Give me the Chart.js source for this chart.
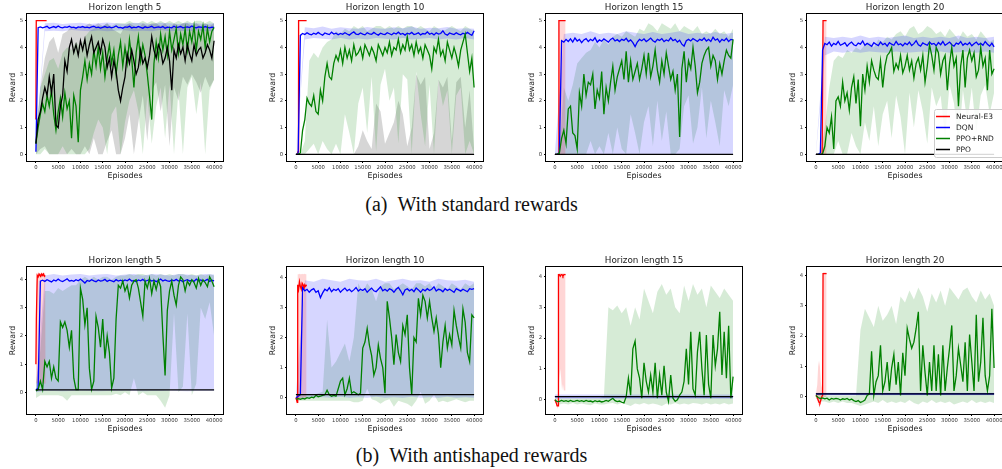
<!DOCTYPE html>
<html>
<head>
<meta charset="utf-8">
<script src="https://cdn.jsdelivr.net/npm/chart.js@4.4.0/dist/chart.umd.min.js"></script>
<style>
body { margin: 0; width: 1002px; height: 469px; overflow: hidden; background: #fff; position: relative; }
canvas { position: absolute; }
.cap { position: absolute; left: 0; width: 943px; text-align: center; font: 20px "Liberation Serif", serif; line-height: 24px; color: #111; white-space: pre; }
</style>
</head>
<body>
<div class="cap" style="top:192px">(a)&ensp;With standard rewards</div>
<div class="cap" style="top:443px">(b)&ensp;With antishaped rewards</div>
<script>
// episode grids
const ep500 = [0, 500, 1000, 1500, 2000, 2500, 3000, 3500, 4000, 4500,
  5000, 5500, 6000, 6500, 7000, 7500, 8000, 8500, 9000, 9500,
  10000, 10500, 11000, 11500, 12000, 12500, 13000, 13500, 14000, 14500,
  15000, 15500, 16000, 16500, 17000, 17500, 18000, 18500, 19000, 19500,
  20000, 20500, 21000, 21500, 22000, 22500, 23000, 23500, 24000, 24500,
  25000, 25500, 26000, 26500, 27000, 27500, 28000, 28500, 29000, 29500,
  30000, 30500, 31000, 31500, 32000, 32500, 33000, 33500, 34000, 34500,
  35000, 35500, 36000, 36500, 37000, 37500, 38000, 38500, 39000, 39500,
  40000];
const ep1000 = [0, 1000, 2000, 3000, 4000, 5000, 6000, 7000, 8000, 9000,
  10000, 11000, 12000, 13000, 14000, 15000, 16000, 17000, 18000, 19000,
  20000, 21000, 22000, 23000, 24000, 25000, 26000, 27000, 28000, 29000,
  30000, 31000, 32000, 33000, 34000, 35000, 36000, 37000, 38000, 39000,
  40000];
const ep2000 = [0, 2000, 4000, 6000, 8000, 10000, 12000, 14000, 16000, 18000,
  20000, 22000, 24000, 26000, 28000, 30000, 32000, 34000, 36000, 38000,
  40000];
const epFlat = [0, 40000];

const xTicks = [0, 5000, 10000, 15000, 20000, 25000, 30000, 35000, 40000];
const yTicksStd = [0, 1, 2, 3, 4, 5];
const yTicksAnti = [0, 1, 2, 3, 4];

const seriesNames = ['Neural-E3', 'DQN', 'PPO+RND', 'PPO'];
const lineColors = ['rgb(255,0,0)', 'rgb(0,0,255)', 'rgb(0,128,0)', 'rgb(0,0,0)'];
const bandColors = ['rgba(255,0,0,0.16)', 'rgba(0,0,255,0.16)', 'rgba(0,128,0,0.16)', 'rgba(0,0,0,0.16)'];

// ---- standard rewards, horizon 5
const std5E3X = [0, 80, 2400];
const std5E3 = [1.3, 5, 5];
const std5Dqn = [0.1, 4.74, 4.77, 4.73, 4.76, 4.79, 4.72, 4.75, 4.78, 4.74,
  4.80, 4.75, 4.73, 4.77, 4.75, 4.79, 4.74, 4.76, 4.72, 4.77,
  4.75, 4.78, 4.74, 4.76, 4.73, 4.77, 4.79, 4.74, 4.76, 4.72,
  4.75, 4.78, 4.74, 4.77, 4.73, 4.76, 4.80, 4.74, 4.75, 4.72,
  4.77, 4.75, 4.79, 4.73, 4.76, 4.74, 4.78, 4.75, 4.72, 4.77,
  4.74, 4.76, 4.79, 4.73, 4.75, 4.77, 4.74, 4.78, 4.72, 4.76,
  4.75, 4.73, 4.79, 4.74, 4.76, 4.78, 4.73, 4.75, 4.77, 4.74,
  4.80, 4.75, 4.73, 4.77, 4.76, 4.74, 4.78, 4.75, 4.73, 4.76,
  4.75];
const std5DqnLo = [0.05, 4.6, 4.62, 4.6, 4.65, 4.62, 4.6, 4.63, 4.6, 4.62,
  4.64, 4.6, 4.62, 4.6, 4.65, 4.6, 4.62, 4.6, 4.63, 4.6, 4.62];
const std5DqnHi = [0.3, 4.9, 4.92, 4.88, 4.9, 4.92, 4.88, 4.9, 4.93, 4.9,
  4.88, 4.92, 4.9, 4.88, 4.92, 4.9, 4.88, 4.92, 4.9, 4.88, 4.9];
const std5Rnd = [0.4, 1.0, 1.5, 1.9, 1.6, 2.2, 1.8, 2.4, 1.5, 0.9,
  1.6, 2.1, 1.4, 2.3, 1.7, 2.0, 0.6, 2.2, 1.8, 0.45,
  2.4, 2.9, 3.5, 2.8, 3.4, 3.0, 3.9, 3.3, 4.0, 3.2,
  3.8, 2.9, 3.6, 4.1, 3.4, 3.9, 3.0, 3.7, 4.2, 3.3,
  4.0, 3.4, 4.3, 3.6, 2.5, 3.8, 4.4, 3.5, 4.1, 3.7,
  3.0, 2.2, 1.3, 3.4, 4.2, 3.6, 4.5, 3.9, 4.4, 3.7,
  4.6, 3.9, 4.3, 4.7, 3.8, 4.5, 4.1, 4.7, 3.9, 4.6,
  4.2, 4.8, 3.9, 4.6, 4.3, 4.8, 4.0, 4.7, 4.2, 4.6,
  4.75];
const std5RndLo = [0.0, 0.0, 0.2, 0.0, 0.0, 0.0, 0.3, 0.0, 0.0, 0.0,
  0.0, 0.0, 0.2, 0.8, 1.3, 1.0, 0.0, 1.5, 1.8, 0.0,
  1.2, 2.0, 2.4, 1.6, 0.0, 2.2, 0.4, 1.8, 2.5, 0.6,
  2.6, 0.0, 2.4, 0.0, 2.5, 2.9, 1.5, 2.7, 0.0, 2.4,
  2.8];
const std5RndHi = [0.8, 2.5, 3.0, 3.5, 3.6, 3.2, 3.8, 4.0, 3.9, 4.2,
  4.0, 4.4, 4.6, 4.7, 4.8, 4.8, 4.9, 4.8, 4.9, 4.9,
  4.9, 5.0, 4.9, 4.9, 5.0, 4.9, 5.0, 4.9, 5.0, 4.9,
  5.0, 4.9, 5.0, 4.9, 5.0, 4.9, 5.0, 5.0, 4.9, 5.0,
  4.9];
const std5Ppo = [0.4, 1.3, 1.6, 2.1, 2.5, 2.2, 2.9, 2.3, 3.0, 1.1,
  1.0, 1.8, 2.2, 3.5, 3.1, 4.0, 4.3, 3.8, 4.1, 3.7,
  4.25, 3.9, 4.3, 3.7, 4.1, 4.4, 3.8, 4.0, 4.2, 3.8,
  4.3, 4.0, 3.25, 3.6, 2.9, 3.5, 3.1, 2.4, 2.0, 2.5,
  2.9, 3.76, 3.4, 3.9, 3.5, 3.0, 3.25, 3.9, 3.4, 3.6,
  3.25, 3.7, 4.4, 3.9, 3.6, 4.1, 3.9, 3.4, 3.6, 4.0,
  3.5, 2.4, 3.9, 3.6, 4.1, 3.76, 4.0, 3.5, 4.1, 3.76,
  3.5, 4.1, 3.7, 3.9, 4.0, 3.6, 3.8, 4.1, 3.9, 3.6,
  4.25];
const std5PpoLo = [0.0, 0.2, 0.3, 0.0, 0.0, 0.0, 0.0, 0.0, 0.2, 0.0,
  0.0, 0.3, 0.0, 0.6, 0.0, 0.0, 0.5, 0.9, 0.0, 0.0,
  0.6, 1.5, 0.0, 1.2, 2.2, 0.5, 2.4, 2.7, 1.6, 2.6,
  0.3, 2.5, 2.0, 2.9, 2.6, 3.0, 2.7, 2.3, 2.9, 2.5,
  2.8];
const std5PpoHi = [0.5, 2.5, 3.6, 4.2, 4.4, 3.8, 4.5, 4.6, 4.8, 4.7,
  4.8, 4.8, 4.9, 4.8, 4.9, 4.8, 4.9, 4.7, 4.6, 4.5,
  4.8, 4.9, 4.8, 4.7, 4.9, 4.8, 4.9, 4.9, 4.8, 4.9,
  4.7, 4.9, 4.8, 4.9, 4.9, 4.8, 4.9, 4.8, 4.9, 4.8,
  4.9];

// ---- standard rewards, horizon 10
const std10E3X = [0, 300, 500, 600, 800, 2400];
const std10E3 = [0, 0, 0.1, 5, 5, 5];
const std10E3Lo = [0, 0, 0, 0, 5, 5];
const std10E3Hi = [0, 0, 5, 5, 5, 5];
const std10Dqn = [0, 0.02, 4.45, 4.52, 4.48, 4.55, 4.5, 4.47, 4.53, 4.49,
  4.56, 4.5, 4.46, 4.54, 4.51, 4.48, 4.57, 4.5, 4.53, 4.47,
  4.52, 4.49, 4.55, 4.5, 4.46, 4.53, 4.58, 4.5, 4.48, 4.54,
  4.5, 4.47, 4.55, 4.51, 4.49, 4.56, 4.5, 4.46, 4.53, 4.5,
  4.48, 4.55, 4.51, 4.47, 4.54, 4.5, 4.57, 4.49, 4.52, 4.46,
  4.53, 4.5, 4.56, 4.48, 4.51, 4.55, 4.47, 4.52, 4.5, 4.58,
  4.49, 4.53, 4.47, 4.55, 4.5, 4.52, 4.62, 4.5, 4.46, 4.54,
  4.51, 4.48, 4.55, 4.5, 4.47, 4.53, 4.49, 4.56, 4.5, 4.45,
  4.62];
const std10DqnLo = [0, 4.3, 4.35, 4.32, 4.3, 4.35, 4.3, 4.33, 4.3, 4.35,
  4.32, 4.3, 4.35, 4.3, 4.32, 4.35, 4.3, 4.33, 4.3, 4.35, 4.3];
const std10DqnHi = [0.05, 4.75, 4.72, 4.78, 4.7, 4.75, 4.72, 4.7, 4.76, 4.72,
  4.7, 4.75, 4.72, 4.78, 4.7, 4.74, 4.72, 4.76, 4.7, 4.72, 4.7];
const std10Rnd = [0, 0, 0.05, 0.9, 1.3, 2.1, 1.9, 1.8, 2.2, 1.6,
  1.5, 2.4, 2.0, 2.9, 3.4, 2.9, 2.8, 3.4, 3.7, 3.5,
  3.9, 3.4, 4.0, 3.6, 3.9, 3.5, 4.1, 3.7, 3.8, 4.0,
  3.6, 4.1, 3.9, 3.7, 4.0, 3.8, 3.5, 4.1, 3.9, 3.7,
  4.0, 3.8, 4.2, 3.7, 4.0, 3.9, 4.3, 3.8, 4.1, 3.9,
  4.4, 3.9, 4.1, 3.7, 4.2, 3.8, 4.0, 3.6, 4.1, 3.9,
  3.7, 3.2, 4.0, 3.8, 4.3, 3.7, 3.9, 3.5, 4.2, 3.9,
  3.6, 4.0, 3.7, 3.3, 3.9, 4.2, 4.5, 3.8, 3.1, 3.6,
  2.5];
const std10RndLo = [0, 0, 0, 0.2, 0.4, 0, 0.5, 0.2, 0, 0.4,
  0, 1.5, 0.8, 0, 1.9, 2.5, 0.8, 2.9, 0.1, 2.6,
  3.2, 2.0, 2.5, 0.4, 3.0, 2.8, 0, 3.1, 1.5, 0.3,
  2.6, 0, 2.8, 1.8, 2.4, 0, 2.2, 2.5, 0, 0.5,
  0];
const std10RndHi = [0, 0, 0.5, 3.5, 3.8, 3.6, 4.0, 4.2, 4.3, 4.6,
  4.5, 4.7, 4.6, 4.8, 4.7, 4.8, 4.6, 4.7, 4.8, 4.8,
  4.7, 4.8, 4.7, 4.8, 4.7, 4.8, 4.8, 4.7, 4.8, 4.7,
  4.6, 4.8, 4.7, 4.6, 4.7, 4.8, 4.7, 4.6, 4.8, 4.7,
  4.6];
const std10Ppo = [0, 0];
const std10PpoLo = [0, 0, 0, 0, 0, 0, 0, 0, 0, 0,
  0, 0, 0, 0, 0, 0, 0, 0, 0, 0,
  0, 0, 0, 0, 0, 0, 0, 0, 0, 0,
  0, 0, 0, 0, 0, 0, 0, 0, 0, 0,
  0];
const std10PpoHi = [0, 0, 0, 0, 0, 0, 0, 0, 0, 0,
  0, 0, 0, 0, 0.3, 0.9, 0.5, 0.2, 1.9, 1.6,
  0.4, 0.8, 1.2, 2.0, 1.5, 0.3, 1.0, 3.0, 2.6, 2.9,
  0.2, 0.8, 2.8, 2.5, 2.9, 0.5, 2.7, 2.9, 1.0, 2.4,
  0.2];

// ---- standard rewards, horizon 15
const std15E3X = [0, 700, 900, 1000, 2400];
const std15E3 = [0, 0, 5, 5, 5];
const std15E3Lo = [0, 0, 0, 0, 0];
const std15E3Hi = [0, 0, 5, 5, 5];
const std15Dqn = [0, 0, 0.05, 4.25, 4.2, 4.3, 4.22, 4.32, 4.2, 4.35,
  4.24, 4.3, 4.18, 4.28, 4.33, 4.22, 4.3, 4.25, 4.36, 4.2,
  4.28, 4.23, 4.32, 4.26, 4.2, 4.3, 4.35, 4.24, 4.29, 4.22,
  4.3, 4.26, 4.34, 4.22, 4.28, 4.18, 4.03, 4.2, 4.3, 4.25,
  4.32, 4.22, 4.28, 4.35, 4.25, 4.2, 4.3, 4.26, 4.33, 4.22,
  4.28, 4.24, 4.36, 4.25, 4.3, 4.2, 4.27, 4.12, 4.05, 4.25,
  4.3, 4.24, 4.33, 4.28, 4.22, 4.3, 4.26, 4.35, 4.24, 4.3,
  4.22, 4.38, 4.27, 4.32, 4.2, 4.3, 4.25, 4.34, 4.22, 4.3,
  4.28];
const std15DqnLo = [0, 0, 0, 0, 0, 0, 0, 0, 0, 0,
  0, 0, 0, 0, 0, 0, 0, 0, 0, 0, 0];
const std15DqnHi = [0.05, 4.5, 4.55, 4.5, 4.6, 4.5, 4.55, 4.5, 4.6, 4.55,
  4.5, 4.58, 4.5, 4.55, 4.6, 4.5, 4.55, 4.5, 4.58, 4.5, 4.55];
const std15Rnd = [0, 0, 0.05, 0.6, 0.9, 0.4, 1.7, 1.8, 0.8, 0.7,
  0.2, 2.3, 1.8, 3.0, 2.2, 2.7, 2.6, 3.0, 1.7, 2.4,
  2.1, 3.1, 1.5, 2.5, 2.0, 2.7, 3.3, 2.4, 2.9, 3.2,
  3.5, 2.8, 3.85, 2.7, 3.5, 2.8, 3.1, 3.4, 2.8, 3.2,
  3.7, 3.0, 3.8, 2.9, 3.3, 3.9, 3.15, 2.7, 3.5, 3.0,
  3.8, 3.3, 2.8, 3.1, 2.4, 3.0, 0.65, 3.2, 3.85, 2.7,
  3.5, 3.2, 4.0, 3.3, 2.3, 2.7, 3.4, 3.7, 3.9, 4.0,
  3.3, 3.7, 3.5, 2.8, 3.4, 3.0, 3.5, 3.9, 3.7, 3.6,
  4.3];
const std15RndLo = [0, 0, 0, 0, 0, 0, 0, 0, 0.5, 0,
  0.3, 0, 0.8, 0, 1.0, 0.2, 0, 1.5, 0.8, 0,
  1.2, 1.8, 0.3, 2.0, 0.5, 1.6, 0, 0, 0.2, 1.8,
  2.2, 0.4, 1.0, 2.5, 0.6, 2.0, 1.2, 0.3, 2.4, 1.8,
  2.6];
const std15RndHi = [0, 0.1, 2.5, 2.0, 2.6, 3.4, 3.6, 3.8, 3.9, 4.2,
  4.0, 4.3, 4.1, 4.4, 4.5, 4.4, 4.6, 4.5, 4.4, 4.7,
  4.6, 4.9, 4.8, 4.6, 4.9, 4.8, 4.7, 4.9, 4.6, 4.8,
  4.7, 4.6, 4.8, 4.5, 4.6, 4.5, 4.7, 4.5, 4.6, 4.4,
  4.7];
const std15Ppo = [0, 0];

// ---- standard rewards, horizon 20
const std20E3X = [0, 1400, 1600, 1700, 2400];
const std20E3 = [0, 0, 5, 5, 5];
const std20E3Lo = [0, 0, 0, 0, 0];
const std20E3Hi = [0, 0, 5, 5, 5];
const std20Dqn = [0, 0, 0.05, 3.9, 4.15, 4.1, 4.2, 4.05, 4.15, 4.1,
  4.22, 4.08, 4.12, 4.18, 4.05, 4.14, 4.2, 4.1, 4.06, 4.16,
  4.12, 4.24, 4.08, 4.15, 4.1, 4.04, 4.18, 4.12, 4.07, 4.2,
  4.1, 4.15, 4.05, 4.18, 4.12, 4.08, 4.22, 4.1, 4.14, 4.06,
  4.16, 4.1, 4.2, 4.07, 4.14, 4.25, 4.1, 4.05, 4.17, 4.12,
  4.08, 4.2, 4.12, 4.15, 4.06, 4.18, 4.1, 4.22, 4.08, 4.14,
  4.2, 4.1, 4.05, 4.16, 4.12, 4.22, 4.08, 4.15, 4.1, 4.18,
  4.06, 4.14, 4.2, 4.1, 4.15, 4.08, 4.22, 4.12, 4.05, 4.16,
  4.02];
const std20DqnLo = [0, 3.7, 3.85, 3.8, 3.85, 3.8, 3.85, 3.82, 3.8, 3.85,
  3.8, 3.82, 3.85, 3.8, 3.85, 3.8, 3.82, 3.85, 3.8, 3.85, 3.8];
const std20DqnHi = [0.05, 4.4, 4.35, 4.4, 4.35, 4.45, 4.35, 4.4, 4.35, 4.4,
  4.45, 4.35, 4.4, 4.35, 4.4, 4.35, 4.45, 4.35, 4.4, 4.35, 4.4];
const std20Rnd = [0, 0, 0, 0.02, 0.3, 1.0, 0.8, 1.4, 0.2, 2.0,
  2.15, 1.8, 2.7, 2.0, 2.3, 1.65, 2.5, 2.9, 1.9, 2.8,
  1.05, 3.0, 2.4, 3.3, 2.7, 3.5, 3.15, 2.9, 2.8, 3.5,
  2.5, 3.3, 3.7, 3.8, 4.0, 3.1, 3.4, 3.2, 3.7, 3.05,
  3.3, 3.7, 3.15, 3.5, 2.85, 3.4, 3.6, 3.15, 3.7, 2.7,
  3.3, 4.1, 3.7, 3.15, 4.0, 3.8, 3.0, 3.5, 3.7, 2.4,
  3.4, 4.0, 3.3, 3.6, 1.8, 3.3, 3.9, 2.5, 3.6, 3.9,
  3.5, 3.8, 2.9, 3.15, 4.0, 3.3, 3.6, 2.4, 3.9, 3.0,
  3.2];
const std20RndLo = [0, 0, 0, 0, 0, 0.5, 0, 0, 0.8, 0.3,
  0, 1.2, 0.5, 1.8, 0.3, 1.5, 2.0, 0.6, 2.2, 1.4,
  0, 2.3, 1.0, 2.4, 1.6, 0.4, 2.5, 1.8, 2.2, 0.6,
  2.6, 1.9, 0.3, 2.4, 1.2, 2.5, 0.8, 2.2, 2.6, 1.5,
  2.3];
const std20RndHi = [0, 0, 1.0, 2.5, 3.5, 3.7, 3.6, 3.9, 3.8, 4.0,
  3.9, 4.1, 4.2, 4.0, 4.3, 4.2, 4.4, 4.3, 4.5, 4.6,
  4.4, 4.7, 4.8, 4.5, 4.6, 4.8, 4.7, 4.5, 4.6, 4.4,
  4.7, 4.5, 4.3, 4.6, 4.4, 4.5, 4.3, 4.6, 4.4, 4.2,
  4.3];
const std20Ppo = [0, 0];

// ---- antishaped rewards, horizon 5
const anti5E3X = [0, 100, 300, 500, 700, 900, 1100, 1300, 1500, 1700, 1900, 2100, 2200];
const anti5E3 = [1.0, 2.6, 4.15, 4.1, 4.2, 4.15, 4.12, 4.2, 4.15, 4.2, 4.12, 4.15, 4.15];
const anti5E3Lo = [0.3, 0.3, 0.35, 0.3, 0.4, 0.3, 0.35, 0.3, 0.3, 0.35, 0.3, 0.3, 0.3];
const anti5E3Hi = [1.8, 3.8, 4.25, 4.22, 4.25, 4.22, 4.25, 4.22, 4.25, 4.22, 4.25, 4.22, 4.22];
const anti5Dqn = [0.08, 0.15, 3.95, 3.98, 3.94, 4.0, 3.96, 3.92, 3.99, 3.95,
  4.02, 3.96, 3.93, 3.98, 4.03, 3.95, 3.97, 3.94, 4.0, 3.96,
  4.02, 3.95, 3.88, 3.97, 3.94, 4.0, 3.96, 3.93, 3.99, 3.95,
  3.97, 4.01, 3.94, 3.98, 3.96, 3.93, 4.0, 3.95, 3.98, 3.94,
  3.99, 3.96, 4.02, 3.95, 3.97, 3.93, 3.99, 3.96, 4.01, 3.94,
  3.97, 4.0, 3.95, 3.98, 3.93, 3.97, 4.02, 3.95, 3.99, 3.96,
  3.94, 3.99, 3.96, 4.01, 3.95, 3.98, 3.93, 3.97, 4.0, 3.95,
  3.98, 3.94, 4.02, 3.96, 3.99, 3.95, 3.97, 4.01, 3.94, 3.98,
  3.96];
const anti5DqnLo = [0.0, 0.05, 0.05, 0.04, 0.05, 0.06, 0.05, 0.04, 0.05, 0.05,
  0.06, 0.05, 0.04, 0.05, 0.05, 0.06, 0.05, 0.04, 0.05, 0.05, 0.05];
const anti5DqnHi = [0.2, 4.15, 4.2, 4.15, 4.18, 4.2, 4.15, 4.18, 4.2, 4.15,
  4.18, 4.2, 4.15, 4.2, 4.18, 4.15, 4.2, 4.18, 4.15, 4.2, 4.18];
const anti5Rnd = [0.05, 0.1, 0.4, 0.1, 1.1, 0.9, 1.1, 0.5, 0.9, 0.5,
  0.4, 2.5, 2.3, 2.5, 2.2, 1.6, 2.2, 0.5, 0.1, 0.1,
  3.7, 3.3, 2.4, 3.0, 0.85, 0.1, 0.4, 2.7, 2.3, 1.6,
  2.6, 1.2, 2.0, 1.4, 0.15, 0.5, 2.6, 3.8, 3.7, 3.95,
  3.6, 3.8, 3.35, 3.8, 3.95, 4.0, 3.7, 3.2, 2.7, 3.95,
  3.7, 4.05, 3.5, 3.95, 3.65, 4.0, 3.75, 2.05, 0.6, 2.9,
  3.6, 3.95, 3.45, 3.1, 3.8, 4.1, 4.0, 3.6, 3.95, 3.8,
  4.0, 3.9, 3.7, 4.05, 3.8, 4.0, 3.9, 3.75, 4.1, 3.95,
  3.75];
const anti5RndLo = [-0.2, -0.1, -0.1, -0.1, -0.1, -0.1, -0.15, -0.3, -0.1, -0.1,
  -0.1, -0.1, -0.1, -0.1, -0.1, -0.1, -0.1, -0.1, -0.05, -0.1,
  0.0, -0.1, 0.5, -0.1, 0.0, -0.1, -0.1, -0.1, -0.3, -0.55,
  -0.1, 2.8, 0.0, 0.2, 2.8, -0.1, 0.3, 3.0, 2.6, 3.2,
  2.0];
const anti5RndHi = [0.3, 1.5, 3.6, 3.6, 3.5, 3.7, 3.6, 3.7, 3.8, 3.8,
  4.0, 4.1, 4.0, 4.1, 4.0, 4.1, 4.1, 4.0, 4.1, 4.15,
  4.15, 4.2, 4.15, 4.2, 4.2, 4.15, 4.2, 4.15, 4.2, 4.15,
  4.2, 4.15, 4.2, 4.2, 4.15, 4.2, 4.15, 4.2, 4.15, 4.2,
  4.15];
const anti5Ppo = [0.09, 0.09];

// ---- antishaped rewards, horizon 10
const anti10E3X = [0, 200, 300, 400, 600, 800, 1000, 1200, 1400, 1600, 1800, 2000, 2200, 2400];
const anti10E3 = [0.0, -0.1, -0.15, 3.75, 3.6, 3.85, 3.7, 3.6, 3.8, 3.75, 3.6, 3.75, 3.7, 3.75];
const anti10E3Lo = [-0.1, -0.2, -0.25, 0.0, 0.0, 0.0, 0.0, 0.0, 0.0, 0.0, 0.0, 0.0, 0.0, 0.0];
const anti10E3Hi = [0.1, 0.05, 0.05, 4.1, 4.1, 4.12, 4.1, 4.1, 4.12, 4.1, 4.1, 4.12, 4.1, 4.1];
const anti10Dqn = [0.0, 0.05, 0.1, 3.65, 3.55, 3.6, 3.5, 3.58, 3.62, 3.5,
  3.55, 3.32, 3.48, 3.6, 3.55, 3.65, 3.52, 3.6, 3.56, 3.62,
  3.5, 3.58, 3.64, 3.55, 3.6, 3.52, 3.58, 3.66, 3.54, 3.6,
  3.56, 3.62, 3.5, 3.58, 3.64, 3.55, 3.52, 3.6, 3.68, 3.55,
  3.6, 3.54, 3.62, 3.58, 3.5, 3.6, 3.66, 3.55, 3.42, 3.58,
  3.62, 3.55, 3.6, 3.52, 3.64, 3.58, 3.5, 3.6, 3.55, 3.62,
  3.56, 3.6, 3.68, 3.54, 3.6, 3.58, 3.52, 3.62, 3.56, 3.6,
  3.55, 3.5, 3.62, 3.58, 3.54, 3.6, 3.56, 3.52, 3.62, 3.6,
  3.62];
const anti10DqnLo = [-0.05, 0.0, 0.0, 0.02, 0.0, 0.03, 0.0, 0.02, 0.0, 0.03,
  0.0, 0.02, 0.0, 0.03, 0.0, 0.02, 0.0, 0.03, 0.0, 0.02, 0.0];
const anti10DqnHi = [0.1, 3.9, 3.85, 3.95, 3.9, 3.85, 3.95, 3.9, 3.88, 3.95,
  3.85, 3.9, 3.95, 3.88, 3.9, 3.85, 3.95, 3.9, 3.88, 3.92, 3.85];
const anti10Rnd = [-0.05, -0.03, -0.05, -0.02, -0.04, 0.0, -0.02, 0.02, 0.0, 0.08,
  0.03, 0.05, 0.08, 0.1, 0.25, 0.1, 0.05, 0.08, 0.05, 0.3,
  0.55, 0.65, 0.1, 0.3, 0.65, 0.15, 0.2, 0.15, 0.1, 0.15,
  1.65, 1.85, 2.3, 1.75, 1.4, 0.75, 1.0, 1.75, 1.3, 1.0,
  0.15, 3.2, 2.65, 2.0, 1.1, 2.1, 1.5, 1.2, 2.4, 2.1,
  2.75, 1.0, 0.1, 2.0, 1.85, 3.3, 2.75, 3.4, 3.2, 2.65,
  3.2, 2.65, 2.2, 2.65, 2.1, 1.0, 1.85, 2.4, 1.65, 2.1,
  1.75, 2.9, 2.4, 2.0, 1.65, 2.95, 2.5, 1.5, 1.2, 2.75,
  2.65];
const anti10RndLo = [-0.1, -0.1, -0.1, -0.1, -0.1, -0.1, -0.1, -0.1, -0.1, -0.1,
  -0.1, -0.1, -0.1, -0.15, -0.15, -0.1, 0.3, -0.05, -0.1, -0.2,
  -0.1, -0.05, -0.3, -0.1, -0.15, -0.2, -0.3, -0.1, 0.2, -0.2,
  -0.1, 0.1, -0.15, -0.1, -0.15, -0.1, -0.05, -0.1, -0.15, -0.1,
  -0.1];
const anti10RndHi = [0.1, 0.1, 0.1, 0.1, 0.1, 0.15, 0.2, 2.6, 1.0, 1.2,
  1.5, 1.8, 1.2, 2.0, 3.8, 3.5, 3.8, 3.6, 3.2, 3.7,
  3.8, 3.8, 3.6, 3.7, 3.8, 3.7, 3.6, 3.8, 3.8, 3.7,
  3.8, 3.6, 3.8, 3.7, 3.6, 3.8, 3.7, 3.6, 3.8, 3.7,
  3.8];
const anti10Ppo = [0.1, 0.1];

// ---- antishaped rewards, horizon 15
const anti15E3X = [0, 300, 500, 700, 800, 1000, 1200, 1400, 1600, 1800, 2000, 2200, 2400];
const anti15E3 = [0.0, -0.1, -0.2, -0.2, 4.05, 4.05, 4.0, 4.05, 4.05, 4.0, 4.05, 4.05, 4.05];
const anti15E3Lo = [-0.05, -0.15, -0.25, -0.3, 0.3, 0.7, 1.0, 0.7, 0.3, 0.5, 0.3, 0.3, 0.3];
const anti15E3Hi = [0.05, 0.0, -0.1, -0.1, 4.1, 4.1, 4.1, 4.1, 4.1, 4.1, 4.1, 4.1, 4.1];
const anti15Dqn = [0.1, 0.1];
const anti15DqnLo = [0.03, 0.03];
const anti15DqnHi = [0.17, 0.17];
const anti15Rnd = [0.0, -0.06, -0.05, -0.02, -0.05, -0.03, -0.06, -0.02, -0.05, -0.04,
  -0.02, -0.05, -0.03, -0.06, -0.02, -0.05, -0.04, -0.07, -0.03, -0.06,
  -0.04, -0.07, -0.05, -0.02, -0.05, 0.0, 0.05, -0.03, -0.06, -0.04,
  -0.08, -0.1, 0.1, 0.7, 0.15, 1.65, 1.9, 1.0, 0.7, 0.05,
  1.2, 0.6, 0.25, 0.8, 0.25, 1.2, 0.05, 0.8, 0.15, 1.1,
  0.25, -0.05, 0.8, 0.05, -0.05, 0.0, 0.15, 0.25, 0.6, 1.65,
  0.5, 2.2, 0.35, 0.15, 1.55, 2.2, 1.0, 0.15, 2.1, 0.5,
  0.05, 2.1, 1.1, 1.65, 2.85, 0.8, 2.2, 0.7, 2.4, 0.05,
  0.75];
const anti15RndLo = [-0.05, -0.15, -0.12, -0.15, -0.1, -0.15, -0.12, -0.15, -0.18, -0.12,
  -0.15, -0.15, -0.12, -0.1, -0.15, -0.1, -0.15, -0.2, -0.12, -0.15,
  -0.1, -0.15, -0.12, -0.15, -0.2, -0.12, -0.15, -0.1, -0.15, -0.12,
  -0.15, -0.1, -0.12, -0.15, -0.1, -0.15, -0.12, -0.15, -0.1, -0.15,
  -0.12];
const anti15RndHi = [0.05, 0.05, 0.05, 0.05, 0.05, 0.05, 0.05, 0.05, 0.05, 0.05,
  0.05, 0.1, 3.0, 2.9, 3.05, 2.8, 3.0, 2.4, 3.0, 2.6,
  3.6, 3.2, 2.8, 3.5, 3.75, 3.4, 3.6, 3.0, 2.8, 3.7,
  3.2, 3.75, 3.4, 3.6, 3.0, 3.7, 3.5, 3.3, 3.6, 3.4,
  3.2];
const anti15Ppo = [0.1, 0.1];

// ---- antishaped rewards, horizon 20
const anti20E3X = [0, 300, 500, 700, 900, 1100, 1300, 1500, 1600, 1800, 2000, 2200, 2400];
const anti20E3 = [0.05, 0.0, -0.1, -0.18, -0.2, -0.1, 0.0, 0.05, 4.05, 4.05, 4.05, 4.05, 4.05];
const anti20E3Lo = [-0.05, -0.1, -0.25, -0.3, -0.3, -0.25, -0.1, 0.0, 0.0, 0.0, 0.0, 0.0, 0.0];
const anti20E3Hi = [0.1, 0.4, 1.0, 1.2, 1.0, 0.5, 0.3, 0.5, 4.1, 4.1, 4.1, 4.1, 4.1];
const anti20Dqn = [0.1, 0.1];
const anti20DqnLo = [0.06, 0.06];
const anti20DqnHi = [0.14, 0.14];
const anti20Rnd = [0.05, -0.02, -0.05, -0.03, -0.06, -0.04, -0.1, -0.05, -0.07, -0.05,
  -0.06, -0.1, -0.06, -0.08, -0.05, -0.1, -0.07, -0.12, -0.15, -0.12,
  -0.18, -0.15, -0.1, 0.05, 0.1, 1.5, 0.05, 0.5, 0.7, 1.7,
  0.2, 0.5, 1.15, 0.2, 0.95, 1.4, 0.4, 1.15, 0.05, 1.45,
  0.7, 2.25, 1.9, 1.6, 1.8, 2.25, 2.8, 0.2, 1.7, 0.8,
  0.05, 1.15, 0.2, 1.7, 0.2, 1.4, 0.05, 1.7, 0.2, 0.95,
  1.6, 2.35, 0.2, 0.7, 1.6, 1.05, 0.5, 1.8, 0.2, 2.05,
  1.15, 0.2, 2.7, 0.5, 1.15, 2.6, 0.7, 0.2, 0.7, 2.9,
  0.95];
const anti20RndLo = [-0.05, -0.15, -0.15, -0.2, -0.15, -0.2, -0.15, -0.2, -0.2, -0.25,
  -0.3, -0.25, -0.2, -0.15, -0.2, -0.1, -0.2, -0.15, -0.2, -0.15,
  -0.2, -0.1, -0.2, -0.25, -0.15, -0.2, -0.1, -0.2, -0.15, -0.2,
  -0.15, -0.25, -0.2, -0.15, -0.2, -0.1, -0.2, -0.15, -0.2, -0.15,
  -0.2];
const anti20RndHi = [0.1, 0.1, 0.05, 0.05, 0.05, 0.05, 0.05, 0.05, 0.05, 0.05,
  2.2, 2.9, 2.6, 2.3, 3.0, 2.5, 2.7, 3.0, 2.4, 3.3,
  3.1, 3.5, 3.2, 3.6, 3.3, 2.8, 3.4, 3.1, 3.5, 3.0,
  3.6, 3.4, 3.2, 3.5, 3.6, 3.3, 3.1, 3.5, 3.2, 3.4,
  3.0];
const anti20Ppo = [0.1, 0.1];

// ---- panel table (frame position in page pixels)
const panels = [
  { title: 'Horizon length 5', left: 27, top: 14, yMin: -0.25, yMax: 5.25, yTicks: yTicksStd,
    series: [
      { x: std5E3X, y: std5E3 },
      { x: ep500, y: std5Dqn, bx: ep2000, lo: std5DqnLo, hi: std5DqnHi },
      { x: ep500, y: std5Rnd, bx: ep1000, lo: std5RndLo, hi: std5RndHi },
      { x: ep500, y: std5Ppo, bx: ep1000, lo: std5PpoLo, hi: std5PpoHi }] },
  { title: 'Horizon length 10', left: 287, top: 14, yMin: -0.25, yMax: 5.25, yTicks: yTicksStd,
    series: [
      { x: std10E3X, y: std10E3, bx: std10E3X, lo: std10E3Lo, hi: std10E3Hi },
      { x: ep500, y: std10Dqn, bx: ep2000, lo: std10DqnLo, hi: std10DqnHi },
      { x: ep500, y: std10Rnd, bx: ep1000, lo: std10RndLo, hi: std10RndHi },
      { x: epFlat, y: std10Ppo, bx: ep1000, lo: std10PpoLo, hi: std10PpoHi }] },
  { title: 'Horizon length 15', left: 546, top: 14, yMin: -0.25, yMax: 5.25, yTicks: yTicksStd,
    series: [
      { x: std15E3X, y: std15E3, bx: std15E3X, lo: std15E3Lo, hi: std15E3Hi },
      { x: ep500, y: std15Dqn, bx: ep2000, lo: std15DqnLo, hi: std15DqnHi },
      { x: ep500, y: std15Rnd, bx: ep1000, lo: std15RndLo, hi: std15RndHi },
      { x: epFlat, y: std15Ppo }] },
  { title: 'Horizon length 20', left: 807, top: 14, yMin: -0.25, yMax: 5.25, yTicks: yTicksStd, legend: true,
    series: [
      { x: std20E3X, y: std20E3, bx: std20E3X, lo: std20E3Lo, hi: std20E3Hi },
      { x: ep500, y: std20Dqn, bx: ep2000, lo: std20DqnLo, hi: std20DqnHi },
      { x: ep500, y: std20Rnd, bx: ep1000, lo: std20RndLo, hi: std20RndHi },
      { x: epFlat, y: std20Ppo }] },
  { title: 'Horizon length 5', left: 27, top: 267, yMin: -0.77, yMax: 4.45, yTicks: yTicksAnti,
    series: [
      { x: anti5E3X, y: anti5E3, bx: anti5E3X, lo: anti5E3Lo, hi: anti5E3Hi },
      { x: ep500, y: anti5Dqn, bx: ep2000, lo: anti5DqnLo, hi: anti5DqnHi },
      { x: ep500, y: anti5Rnd, bx: ep1000, lo: anti5RndLo, hi: anti5RndHi },
      { x: epFlat, y: anti5Ppo }] },
  { title: 'Horizon length 10', left: 287, top: 267, yMin: -0.54, yMax: 4.34, yTicks: yTicksAnti,
    series: [
      { x: anti10E3X, y: anti10E3, bx: anti10E3X, lo: anti10E3Lo, hi: anti10E3Hi },
      { x: ep500, y: anti10Dqn, bx: ep2000, lo: anti10DqnLo, hi: anti10DqnHi },
      { x: ep500, y: anti10Rnd, bx: ep1000, lo: anti10RndLo, hi: anti10RndHi },
      { x: epFlat, y: anti10Ppo }] },
  { title: 'Horizon length 15', left: 546, top: 267, yMin: -0.46, yMax: 4.30, yTicks: yTicksAnti,
    series: [
      { x: anti15E3X, y: anti15E3, bx: anti15E3X, lo: anti15E3Lo, hi: anti15E3Hi },
      { x: epFlat, y: anti15Dqn, bx: epFlat, lo: anti15DqnLo, hi: anti15DqnHi },
      { x: ep500, y: anti15Rnd, bx: ep1000, lo: anti15RndLo, hi: anti15RndHi },
      { x: epFlat, y: anti15Ppo }] },
  { title: 'Horizon length 20', left: 807, top: 267, yMin: -0.56, yMax: 4.27, yTicks: yTicksAnti,
    series: [
      { x: anti20E3X, y: anti20E3, bx: anti20E3X, lo: anti20E3Lo, hi: anti20E3Hi },
      { x: epFlat, y: anti20Dqn, bx: epFlat, lo: anti20DqnLo, hi: anti20DqnHi },
      { x: ep500, y: anti20Rnd, bx: ep1000, lo: anti20RndLo, hi: anti20RndHi },
      { x: epFlat, y: anti20Ppo }] }
];

Chart.defaults.font.family = '"DejaVu Sans", sans-serif';
Chart.defaults.color = '#222';

const Y_AXIS_W = 19, TITLE_H = 11, X_AXIS_H = 19, PAD_R = 4;

function pts(xs, ys) {
  return xs.map((x, i) => ({ x: x, y: ys[i] }));
}

// black box round the plot area, like the matplotlib frame
const framePlugin = {
  id: 'frame',
  afterDraw(chart) {
    const a = chart.chartArea, ctx = chart.ctx;
    ctx.save();
    ctx.strokeStyle = '#000';
    ctx.lineWidth = 1;
    ctx.strokeRect(a.left - 0.5, a.top - 0.5, a.right - a.left + 1, a.bottom - a.top + 1);
    ctx.restore();
  }
};

// legend box inside the plot, lower right
const cornerLegend = {
  id: 'cornerLegend',
  afterDraw(chart, args, opts) {
    if (!opts.show) return;
    const a = chart.chartArea, ctx = chart.ctx;
    const bx = a.left + 127, by = a.top + 95;
    ctx.save();
    ctx.fillStyle = 'rgba(255,255,255,0.85)';
    ctx.strokeStyle = '#ccc';
    ctx.lineWidth = 1;
    ctx.beginPath();
    ctx.roundRect(bx + 0.5, by + 0.5, 90, 48, 2);
    ctx.fill();
    ctx.stroke();
    ctx.font = '7.5px "DejaVu Sans"';
    ctx.textBaseline = 'middle';
    seriesNames.forEach((name, k) => {
      const y = by + 7.5 + k * 11;
      ctx.strokeStyle = lineColors[k];
      ctx.lineWidth = 1.5;
      ctx.beginPath();
      ctx.moveTo(bx + 2, y);
      ctx.lineTo(bx + 16, y);
      ctx.stroke();
      ctx.fillStyle = '#222';
      ctx.fillText(name, bx + 22, y + 0.5);
    });
    ctx.restore();
  }
};

panels.forEach((p) => {
  const cv = document.createElement('canvas');
  cv.width = Y_AXIS_W + 196 + PAD_R;
  cv.height = TITLE_H + 147 + X_AXIS_H;
  cv.style.left = (p.left - Y_AXIS_W) + 'px';
  cv.style.top = (p.top - TITLE_H) + 'px';
  document.body.appendChild(cv);

  const datasets = [];
  p.series.forEach((s, k) => {
    if (!s.lo) return;
    datasets.push({ data: pts(s.bx, s.lo), borderWidth: 0, borderColor: 'rgba(0,0,0,0)',
      pointRadius: 0, fill: false, order: 10 });
    datasets.push({ data: pts(s.bx, s.hi), borderWidth: 0, borderColor: 'rgba(0,0,0,0)',
      pointRadius: 0, fill: '-1', backgroundColor: bandColors[k], order: 10 });
  });
  p.series.forEach((s, k) => {
    datasets.push({ label: seriesNames[k], data: pts(s.x, s.y), borderColor: lineColors[k],
      borderWidth: 1.3, pointRadius: 0, fill: false, order: 4 - k });
  });

  new Chart(cv, {
    type: 'line',
    data: { datasets },
    options: {
      responsive: false,
      animation: false,
      events: [],
      layout: { padding: { left: 0, right: PAD_R, top: 0, bottom: 0 } },
      plugins: {
        legend: { display: false },
        tooltip: { enabled: false },
        title: { display: true, text: p.title, fullSize: false, color: '#222',
          font: { size: 8.8, weight: 'normal', lineHeight: '10px' }, padding: { top: 0, bottom: 1 } },
        cornerLegend: { show: !!p.legend }
      },
      scales: {
        x: {
          type: 'linear', min: -2000, max: 42000,
          afterBuildTicks: (s) => { s.ticks = xTicks.map(v => ({ value: v })); },
          afterFit: (s) => { s.height = X_AXIS_H; },
          ticks: { font: { size: 5.3 }, color: '#333', padding: 1, maxRotation: 0, autoSkip: false,
            callback: (v) => String(v) },
          grid: { drawOnChartArea: false, drawTicks: true, tickLength: 2, color: '#000' },
          border: { display: false },
          title: { display: true, text: 'Episodes', color: '#222', padding: 0,
            font: { size: 7.9, lineHeight: '9px' } }
        },
        y: {
          min: p.yMin, max: p.yMax,
          afterBuildTicks: (s) => { s.ticks = p.yTicks.map(v => ({ value: v })); },
          afterFit: (s) => { s.width = Y_AXIS_W; },
          ticks: { font: { size: 5.3 }, color: '#333', padding: 2, callback: (v) => String(v) },
          grid: { drawOnChartArea: false, drawTicks: true, tickLength: 2, color: '#000' },
          border: { display: false },
          title: { display: true, text: 'Reward', color: '#222', padding: 0,
            font: { size: 7.9, lineHeight: '9px' } }
        }
      }
    },
    plugins: [framePlugin, cornerLegend]
  });
});
</script>
</body>
</html>
